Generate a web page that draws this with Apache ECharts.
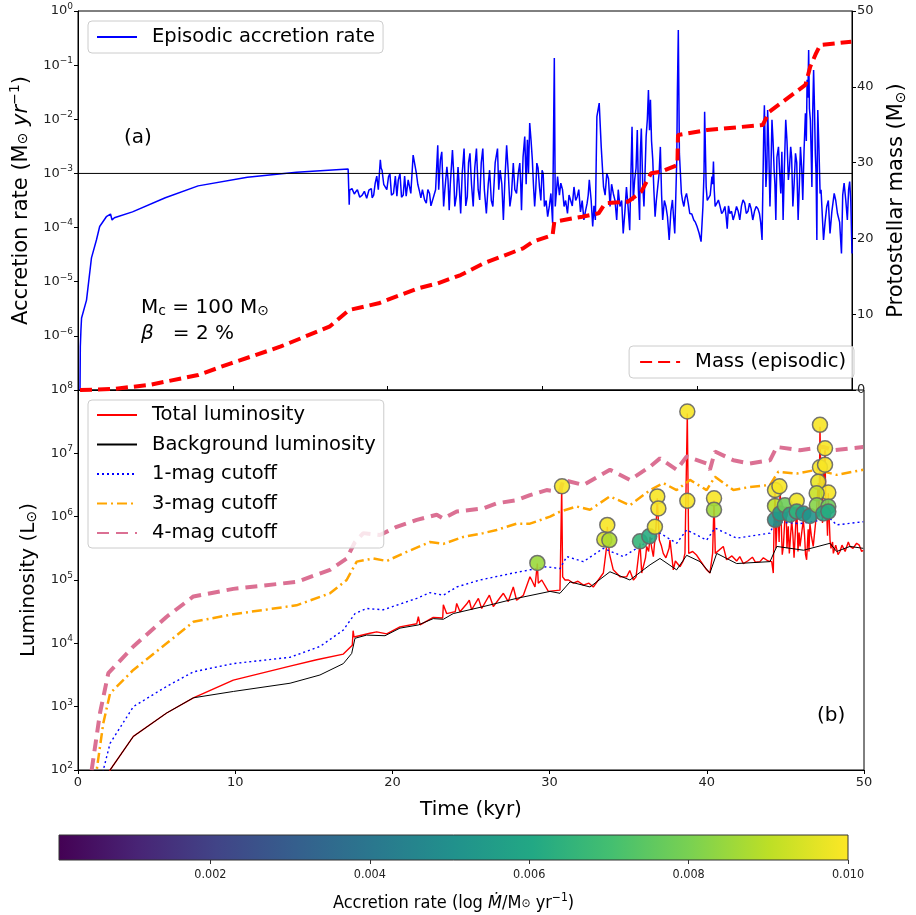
<!DOCTYPE html>
<html><head><meta charset="utf-8">
<script src="https://cdn.jsdelivr.net/npm/echarts@6/dist/echarts.min.js"></script>
<style>html,body{margin:0;padding:0;background:#fff}#c{width:916px;height:915px}</style>
</head><body><div id="c"></div>
<script>
// ---------- data (x in kyr, values as log10 where noted) ----------
const accretionLog = [[0.13,-7],[0.15,-6.2],[0.19,-5.89],[0.23,-5.67],[0.55,-5.34],[0.87,-4.56],[1.19,-4.23],[1.40,-3.98],[1.83,-3.80],[2.10,-3.75],[2.2,-3.86],[2.35,-3.82],[3.52,-3.71],[5.64,-3.45],[7.76,-3.23],[10.94,-3.07],[14.12,-2.98],[17.45,-2.92],[17.5,-2.92],[17.52,-3.58],[17.55,-3.31],
[17.94,-3.34],[18.36,-3.40],[18.79,-3.31],[19.0,-3.45],[19.2,-3.18],[19.53,-2.75],[19.64,-2.94],[19.85,-3.18],[20.06,-3.06],[20.38,-3.37],[20.69,-3.12],[21.01,-3.40],[21.33,-3.12],[21.5,-3.37],[21.65,-2.66],[21.86,-3.0],[22.07,-3.34],[22.39,-3.49],[22.71,-3.37],[22.92,-3.58],[23.24,-2.48],[23.41,-2.75],[23.62,-3.61],[23.83,-2.88],[23.98,-3.68],[24.19,-2.57],[24.34,-3.61],[24.55,-2.88],[24.72,-3.74],[24.94,-2.54],[25.15,-3.43],[25.32,-2.63],[25.53,-3.61],[25.74,-2.54],[25.95,-3.49],[26.15,-2.54],[26.38,-3.74],[26.59,-2.94],[26.8,-3.61],[27.1,-2.54],[27.27,-2.94],[27.48,-3.86],[27.69,-2.48],[27.9,-3.61],[28.12,-2.81],[28.33,-3.37],[28.54,-2.81],[28.65,-3.68],[28.86,-2.32],[29.03,-2.38],[29.18,-2.07],[29.35,-2.75],[29.5,-3.61],[29.64,-2.81],[29.81,-3.25],[29.98,-2.94],[30.13,-3.61],[30.34,-3.80],[30.55,-3.37],[30.66,-3.92],[30.77,-0.87],[30.83,-3.61],[30.98,-3.06],[31.19,-3.18],[31.4,-3.61],[31.62,-3.74],[31.83,-3.37],[32.04,-3.25],[32.25,-3.43],[32.46,-3.71],[32.68,-3.86],[32.89,-3.55],[33.03,-3.12],[33.25,-3.98],[33.42,-3.86],[33.52,-1.95],[33.67,-1.70],[33.8,-2.51],[33.95,-3.25],[34.16,-3.0],[34.37,-3.61],[34.58,-3.37],[34.8,-3.86],[35.01,-3.61],[35.22,-4.11],[35.43,-3.25],[35.64,-4.05],[35.79,-2.14],[35.96,-3.12],[36.13,-2.20],[36.28,-3.86],[36.39,-2.17],[36.56,-3.61],[36.7,-2.32],[36.85,-1.46],[36.98,-1.64],[37.13,-2.75],[37.28,-3.80],[37.45,-3.25],[37.62,-2.51],[37.77,-3.86],[37.98,-3.61],[38.19,-4.23],[38.4,-3.49],[38.55,-4.11],[38.68,-2.75],[38.78,-0.35],[38.85,-2.63],[38.98,-3.37],[39.14,-3.61],[39.31,-3.37],[39.52,-3.74],[39.78,-3.86],[39.99,-3.98],[40.25,-4.26],[40.37,-3.61],[40.48,-1.86],[40.58,-3.25],[40.73,-3.49],[40.95,-3.06],[41.05,-2.78],[41.16,-3.61],[41.37,-3.49],[41.58,-3.74],[41.79,-3.61],[41.94,-4.02],[42.11,-3.74],[42.32,-3.86],[42.54,-3.61],[42.75,-3.86],[42.96,-3.49],[43.17,-3.74],[43.38,-3.55],[43.59,-3.86],[43.81,-3.61],[44.02,-3.74],[44.19,-4.23],[44.27,-2.75],[44.34,-1.74],[44.44,-3.25],[44.55,-1.83],[44.7,-3.61],[44.83,-2.01],[44.97,-2.94],[45.08,-3.86],[45.25,-2.51],[45.4,-3.37],[45.55,-3.86],[45.72,-2.01],[45.89,-3.12],[46.04,-2.51],[46.18,-3.61],[46.35,-2.63],[46.52,-3.86],[46.67,-2.51],[46.82,-3.49],[46.99,-1.89],[47.1,-1.27],[47.2,-0.72],[47.31,-2.01],[47.41,-3.25],[47.52,-1.09],[47.63,-2.63],[47.73,-4.23],[47.79,-1.83],[47.94,-3.37],[48.16,-4.23],[48.37,-3.61],[48.58,-4.11],[48.85,-3.37],[49.06,-3.74],[49.32,-4.48],[49.49,-3.18],[49.7,-3.86],[49.85,-3.15],[50.0,-4.48]];
// further flicker readings inside the noisy stretches
const accretionLogFine = [[17.7,-3.28],[17.85,-3.38],[18.05,-3.3],[18.2,-3.44],[18.5,-3.33],[18.65,-3.46],[18.95,-3.28],[19.1,-3.4],[19.3,-3.05],[19.4,-3.3],[19.58,-2.9],[19.75,-3.2],[19.95,-3.3],[20.15,-3.0],[20.25,-3.4],[20.5,-3.05],[20.6,-3.42],[20.8,-3.0],[20.9,-3.44],[21.1,-3.05],[21.2,-3.42],[21.4,-3.1],[21.95,-3.2],[22.15,-3.45],[22.25,-3.3],[22.5,-3.55],[22.6,-3.3],[22.8,-3.6],[23.1,-3.3],[23.3,-3.3],[23.5,-2.6],[23.7,-3.3],[23.9,-3.1],[24.05,-3.2],[24.27,-3.0],[24.45,-3.4],[24.62,-3.2],[24.82,-3.0],[25.05,-3.6],[25.23,-2.8],[25.42,-3.2],[25.63,-2.9],[25.85,-3.3],[26.05,-2.8],[26.25,-3.3],[26.5,-3.2],[26.7,-3.5],[26.95,-2.8],[27.18,-3.3],[27.38,-3.2],[27.58,-3.1],[27.8,-3.0],[28.0,-3.4],[28.22,-3.3],[28.44,-3.0],[28.6,-3.2],[28.75,-2.7],[28.95,-3.2],[29.1,-3.0],[29.27,-2.4],[29.42,-3.2],[29.57,-3.3],[29.72,-2.9],[29.9,-3.5],[30.05,-3.0],[30.24,-3.5],[30.45,-3.6],[31.1,-3.4],[31.3,-3.3],[31.5,-3.5],[31.72,-3.4],[31.93,-3.6],[32.15,-3.5],[32.35,-3.3],[32.57,-3.5],[32.78,-3.7],[32.96,-3.4],[33.15,-3.5],[33.33,-3.6],[34.05,-3.4],[34.27,-3.1],[34.47,-3.2],[34.69,-3.5],[34.9,-3.3],[35.12,-3.5],[35.33,-3.7],[35.53,-3.6],[35.72,-3.0],[35.87,-3.5],[36.05,-2.9],[36.2,-3.3],[36.33,-2.6],[36.48,-3.2],[36.63,-3.0],[36.78,-2.0],[36.92,-2.2],[37.05,-2.4],[37.2,-3.3],[37.36,-3.5],[37.54,-3.0],[37.7,-3.4],[37.88,-3.5],[38.08,-3.8],[38.3,-3.7],[38.47,-3.8],[38.62,-3.4],[38.72,-1.5],[39.05,-3.5],[39.22,-3.45],[39.42,-3.55],[39.65,-3.75],[39.88,-3.9],[40.12,-4.1],[40.44,-3.0],[40.65,-3.5],[40.84,-3.4],[41.0,-3.2],[41.1,-3.3],[41.27,-3.55],[41.47,-3.6],[41.68,-3.7],[41.87,-3.8],[42.02,-3.6],[42.22,-3.7],[42.43,-3.75],[42.65,-3.7],[42.86,-3.6],[43.07,-3.55],[43.28,-3.7],[43.48,-3.65],[43.7,-3.7],[43.92,-3.65],[44.1,-3.9],[44.3,-2.2],[44.39,-2.5],[44.5,-2.9],[44.62,-2.5],[44.76,-3.0],[44.9,-2.4],[45.02,-3.2],[45.15,-2.7],[45.33,-3.0],[45.47,-2.6],[45.63,-2.9],[45.8,-2.4],[45.96,-2.9],[46.1,-2.7],[46.26,-3.2],[46.43,-2.8],[46.6,-3.2],[46.75,-2.9],[46.9,-2.6],[47.05,-2.4],[47.15,-1.6],[47.25,-1.8],[47.36,-2.6],[47.46,-1.9],[47.57,-1.7],[47.68,-3.0],[47.76,-2.6],[47.86,-2.5],[48.0,-3.3],[48.26,-3.9],[48.47,-3.5],[48.7,-3.7],[48.95,-3.5],[49.2,-3.9],[49.4,-3.4],[49.6,-3.5],[49.78,-3.3],[49.92,-3.5]];
const thresholdRate = 1e-3;
const timeRange = [0, 50];
const massEpisodic = [[0.13,0],[2.25,0.13],[4.58,0.66],[7.76,1.98],[9.88,3.52],[13.06,5.71],[16.24,8.35],[17.51,10.55],[19.42,11.44],[21.97,13.41],[23.24,14.07],[24.72,15.17],[26.21,16.71],[28.75,18.69],[29.39,19.57],[30.66,20.45],[30.77,22.2],[32.57,22.86],[33.63,23.31],[34.05,24.63],[35.54,24.85],[36.39,26.17],[37.02,28.6],[37.66,28.8],[38.72,29.68],[38.76,33.64],[40.63,34.3],[44.23,34.96],[44.66,36.72],[46.99,40.24],[47.3,42.65],[47.63,44.2],[47.94,45.51],[49.95,45.95]];
const totalLumLog = [[2.0,1.95],[2.04,2.0],[3.52,2.53],[5.64,2.9],[7.34,3.14],[9.88,3.42],[13.49,3.64],[15.18,3.74],[16.88,3.83],[17.45,3.97],[17.5,4.2],[17.56,4.1],[18.57,4.16],[19.0,4.18],[19.64,4.15],[20.48,4.26],[21.55,4.31],[21.65,4.42],[21.76,4.29],[22.6,4.41],[23.2,4.4],[23.24,4.61],[23.45,4.47],[24.0,4.5],[24.09,4.63],[24.3,4.5],[24.72,4.62],[24.89,4.68],[25.04,4.53],[25.47,4.71],[25.68,4.55],[26.17,4.76],[26.42,4.58],[26.84,4.72],[27.06,4.79],[27.37,4.66],[27.69,4.89],[27.9,4.68],[28.33,4.76],[28.75,5.05],[28.86,5.0],[29.07,4.89],[29.22,5.26],[29.28,4.95],[29.5,5.0],[29.92,4.82],[30.03,4.84],[30.66,4.84],[30.77,6.47],[30.83,5.05],[30.98,5.0],[31.51,4.95],[32.15,4.92],[32.78,4.89],[33.42,5.11],[33.63,5.53],[33.67,5.84],[33.8,5.42],[34.05,5.16],[34.48,5.05],[35.33,5.0],[35.75,5.58],[35.86,5.11],[36.18,5.53],[36.39,5.68],[36.6,5.37],[36.77,5.84],[36.85,6.29],[36.98,5.63],[37.23,5.42],[37.66,5.63],[37.87,5.16],[38.3,5.21],[38.61,5.42],[38.76,7.63],[38.85,5.42],[39.36,5.39],[39.99,5.16],[40.2,5.11],[40.37,5.42],[40.46,6.26],[40.54,5.42],[41.05,5.53],[41.26,5.32],[42.32,5.26],[43.38,5.29],[44.13,5.29],[44.23,5.11],[44.34,6.42],[44.45,5.79],[44.66,6.47],[44.87,5.53],[45.04,6.16],[45.25,5.42],[45.4,5.95],[45.61,5.37],[45.72,6.21],[45.93,5.53],[46.14,5.95],[46.35,5.32],[46.56,5.89],[46.77,5.53],[46.99,6.16],[47.09,6.53],[47.2,7.42],[47.31,6.32],[47.41,6.79],[47.52,7.05],[47.63,6.05],[47.73,6.37],[47.84,5.63],[48.05,5.42],[48.47,5.45],[49.11,5.53],[49.53,5.58],[49.95,5.47]];
const totalLumLogFine = [[31.2,5.0],[31.8,4.98],[32.5,4.95],[33.1,5.0],[34.3,5.1],[34.9,5.05],[35.1,5.15],[35.5,5.05],[36.1,5.35],[36.3,5.45],[36.5,5.5],[37.1,5.55],[37.4,5.35],[37.6,5.5],[38.0,5.3],[38.5,5.3],[39.1,5.45],[39.6,5.3],[41.6,5.38],[41.9,5.3],[42.1,5.37],[42.6,5.3],[42.9,5.36],[43.1,5.28],[43.6,5.35],[43.9,5.3],[44.28,5.9],[44.4,5.5],[44.52,6.2],[44.6,5.6],[44.72,6.0],[44.8,5.4],[44.95,5.9],[45.1,5.5],[45.18,5.85],[45.32,5.4],[45.48,5.7],[45.55,5.35],[45.66,5.9],[45.8,5.45],[45.87,5.75],[46.03,5.5],[46.22,5.7],[46.28,5.4],[46.45,5.8],[46.5,5.45],[46.65,5.7],[46.85,5.5],[46.92,5.9],[47.14,6.0],[47.25,6.6],[47.36,5.9],[47.46,6.5],[47.57,6.2],[47.68,5.7],[47.78,6.0],[47.9,5.5],[48.0,5.6],[48.2,5.55],[48.35,5.4],[48.6,5.55],[48.8,5.45],[49.0,5.6],[49.3,5.5],[49.7,5.55],[49.85,5.45]];
const backgroundLumLog = [[2.04,2.0],[3.52,2.53],[5.64,2.9],[7.34,3.14],[9.88,3.24],[13.49,3.37],[15.39,3.5],[16.88,3.68],[17.41,3.84],[17.62,4.08],[18.36,4.13],[19.53,4.12],[20.48,4.24],[21.65,4.29],[22.6,4.39],[23.24,4.38],[23.87,4.47],[25.78,4.58],[27.9,4.71],[30.03,4.82],[30.66,4.79],[31.3,4.97],[32.57,4.89],[33.84,5.13],[35.11,5.0],[36.39,5.24],[37.02,5.34],[38.08,5.16],[38.72,5.39],[39.57,5.29],[40.2,5.11],[40.63,5.42],[41.9,5.26],[44.02,5.29],[44.45,5.53],[46.16,5.47],[47.84,5.58],[48.26,5.45],[49.11,5.53],[49.95,5.5]];
const cutoff1Log = [[1.5,1.8],[1.61,2.0],[2.04,2.42],[3.52,3.0],[5.64,3.32],[7.34,3.55],[9.88,3.68],[13.49,3.78],[15.39,3.95],[16.88,4.21],[17.62,4.47],[18.36,4.55],[19.42,4.53],[21.55,4.71],[22.39,4.8],[23.24,4.76],[24.09,4.89],[25.57,5.0],[27.69,5.11],[29.81,5.21],[30.66,5.18],[31.09,5.37],[32.15,5.29],[33.42,5.5],[34.69,5.37],[36.39,5.63],[37.02,5.74],[38.08,5.58],[38.72,5.79],[39.99,5.63],[40.52,5.82],[41.9,5.66],[44.02,5.74],[44.34,5.92],[45.93,5.89],[47.84,5.97],[48.26,5.87],[49.95,5.92]];
const cutoff3Log = [[1.1,1.8],[1.19,2.0],[1.61,2.74],[2.04,3.21],[3.52,3.58],[5.64,4.0],[7.34,4.34],[9.88,4.46],[13.9,4.6],[16.03,4.79],[17.09,5.0],[17.73,5.29],[18.79,5.34],[19.64,5.3],[20.69,5.42],[22.39,5.6],[23.24,5.57],[24.51,5.68],[25.78,5.74],[26.63,5.79],[27.9,5.89],[28.75,5.89],[30.03,6.0],[30.66,6.08],[31.72,6.16],[32.57,6.11],[33.84,6.32],[35.11,6.18],[36.39,6.42],[37.23,6.53],[38.08,6.42],[38.93,6.58],[39.99,6.42],[40.52,6.63],[41.69,6.42],[42.75,6.47],[44.02,6.5],[44.55,6.71],[45.72,6.68],[46.99,6.74],[48.26,6.66],[49.95,6.74]];
const cutoff4Log = [[0.75,1.7],[0.87,2.0],[1.4,2.9],[1.93,3.53],[3.52,3.95],[5.64,4.42],[7.34,4.74],[9.88,4.86],[13.9,4.97],[16.03,5.16],[17.09,5.34],[17.62,5.6],[18.15,5.74],[19.21,5.71],[20.27,5.84],[21.55,5.95],[22.82,6.03],[23.24,5.97],[24.09,6.08],[25.78,6.13],[26.63,6.21],[27.9,6.26],[28.75,6.34],[29.81,6.42],[30.66,6.39],[30.87,6.58],[32.15,6.5],[33.84,6.74],[35.11,6.58],[36.39,6.79],[37.02,6.92],[38.08,6.74],[38.72,6.95],[39.99,6.84],[40.2,6.74],[40.52,7.03],[41.69,6.89],[42.75,6.84],[44.02,6.89],[44.45,7.1],[45.93,7.05],[47.41,7.1],[48.05,7.05],[49.95,7.1]];
// bursts: time, log10 L, colour value
const burstPoints = [[29.22,5.27,0.0085],[30.79,6.48,0.0099],[33.67,5.87,0.0099],[33.48,5.64,0.0094],[33.8,5.63,0.0088],[35.75,5.61,0.0066],[36.34,5.69,0.0062],[36.7,5.84,0.0098],[36.85,6.32,0.0099],[36.92,6.13,0.0099],[38.76,7.66,0.0099],[38.76,6.25,0.0099],[40.46,6.29,0.0099],[40.46,6.11,0.0086],[44.34,6.42,0.0098],[44.62,6.48,0.0099],[44.34,6.17,0.009],[44.34,5.95,0.0052],[44.66,6.05,0.0055],[44.97,6.18,0.0078],[45.29,6.03,0.0056],[45.72,6.25,0.0098],[45.72,6.08,0.0065],[46.14,6.05,0.0054],[46.56,6.01,0.0052],[47.2,7.45,0.0099],[47.52,7.08,0.0099],[47.2,6.78,0.0099],[47.52,6.82,0.0099],[47.09,6.55,0.0097],[47.73,6.38,0.0099],[46.99,6.37,0.0092],[47.0,6.18,0.0082],[47.73,6.16,0.0078],[47.41,6.05,0.006],[47.73,6.08,0.0062]];
const colorRange = [0.0001, 0.01];
const colorTicks = [0.002, 0.004, 0.006, 0.008, 0.010];
const viridis = ['#440154','#482475','#414487','#355f8d','#2a788e','#21918c','#22a884','#44bf70','#7ad151','#bddf26','#fde725'];

const byX = (a, b) => a[0] - b[0];
const pw = arr => arr.map(p => [p[0], Math.pow(10, p[1])]);
const F = 'DejaVu Sans';
const chart = echarts.init(document.getElementById('c'));
const supFmt = v => { const e = Math.round(Math.log10(v)); return '{a|10}{b|' + (e < 0 ? '\u2212' + (-e) : e) + '}'; };
const supRich = { a: {fontSize: 13, fontFamily: F, color: '#222'}, b: {fontSize: 9, fontFamily: F, color: '#222', verticalAlign: 'bottom', padding: [0,0,9,0]} };
const stops = viridis.map((c,i) => ({offset: i/(viridis.length-1), color: c}));
const legendBase = {backgroundColor: 'rgba(255,255,255,0.82)', borderColor: '#ccc', borderWidth: 1, borderRadius: 4, itemWidth: 40, itemHeight: 12, orient: 'vertical',
  itemStyle: {opacity: 0}, textStyle: {fontSize: 19.5, color: '#000', fontFamily: F, padding: [0,0,0,10]}};

chart.setOption({
  animation: false,
  textStyle: {fontFamily: F},
  grid: [
    {left: 78, right: 52, top: 11, height: 379, show: true, borderColor: '#000', borderWidth: 1},
    {left: 78, right: 52, top: 390, height: 380, show: true, borderColor: '#000', borderWidth: 1},
    {left: 59, right: 68, top: 835, height: 25, show: false}
  ],
  xAxis: [
    {gridIndex: 0, type: 'value', min: timeRange[0], max: timeRange[1], interval: 10, axisLabel: {show: false}, axisTick: {inside: true, length: 4, lineStyle: {color: '#000'}}, axisLine: {lineStyle: {color: '#000'}}, splitLine: {show: false}},
    {gridIndex: 1, type: 'value', min: timeRange[0], max: timeRange[1], interval: 10, axisLabel: {fontSize: 13, color: '#222', margin: 6}, axisTick: {length: 4, lineStyle: {color: '#000'}}, axisLine: {lineStyle: {color: '#000'}}, splitLine: {show: false},
      name: 'Time (kyr)', nameLocation: 'middle', nameGap: 30, nameTextStyle: {fontSize: 20, color: '#000'}},
    {gridIndex: 2, type: 'value', min: colorRange[0], max: colorRange[1], axisLine: {show: false}, splitLine: {show: false},
      axisTick: {customValues: colorTicks, length: 4, lineStyle: {color: '#333'}},
      axisLabel: {customValues: colorTicks, formatter: v => v.toFixed(3), fontSize: 12.5, fontFamily: 'DejaVu Sans Condensed', color: '#222'},
      name: '{n|Accretion rate (log }{i|Ṁ}{n|/M}{s|⊙}{n| yr}{p|\u22121}{n|)}', nameLocation: 'middle', nameGap: 32,
      nameTextStyle: {rich: {n: {fontSize: 18, fontFamily: 'DejaVu Sans Condensed', color: '#000'}, i: {fontSize: 18, fontStyle: 'italic', fontFamily: 'DejaVu Sans Condensed', color: '#000'}, s: {fontSize: 12, fontFamily: 'DejaVu Sans Condensed', color: '#000', verticalAlign: 'top', padding: [6,0,0,0]}, p: {fontSize: 12, fontFamily: 'DejaVu Sans Condensed', color: '#000', padding: [0,0,10,0]}}}}
  ],
  yAxis: [
    {gridIndex: 0, type: 'log', logBase: 10, min: 1e-7, max: 1, interval: 1, splitLine: {show: false}, axisLine: {show: true, lineStyle: {color: '#000'}}, axisTick: {length: 4, lineStyle: {color: '#000'}},
      axisLabel: {formatter: supFmt, rich: supRich, showMinLabel: false, margin: 5},
      name: '{n|Accretion rate (M}{s|⊙}{i| yr}{p|\u22121}{n|)}', nameLocation: 'middle', nameGap: 34, nameRotate: 90,
      nameTextStyle: {rich: {n: {fontSize: 21, fontFamily: F, color: '#000'}, i: {fontSize: 21, fontStyle: 'italic', fontFamily: F, color: '#000'}, s: {fontSize: 14, fontFamily: F, color: '#000', verticalAlign: 'top', padding: [8,0,0,0]}, p: {fontSize: 14, fontFamily: F, color: '#000', padding: [0,0,12,0]}}}},
    {gridIndex: 0, type: 'value', position: 'right', min: 0, max: 50, interval: 10, splitLine: {show: false}, axisLine: {show: true, lineStyle: {color: '#000'}}, axisTick: {show: true, length: 4, lineStyle: {color: '#000'}},
      axisLabel: {fontSize: 13, color: '#222', margin: 5},
      name: '{n|Protostellar mass (M}{s|⊙}{n|)}', nameLocation: 'middle', nameGap: 34, nameRotate: 90,
      nameTextStyle: {rich: {n: {fontSize: 21, fontFamily: F, color: '#000'}, s: {fontSize: 14, fontFamily: F, color: '#000', padding: [8,0,0,0]}}}},
    {gridIndex: 1, type: 'log', logBase: 10, min: 1e2, max: 1e8, interval: 1, splitLine: {show: false}, axisLine: {show: true, lineStyle: {color: '#000'}}, axisTick: {length: 4, lineStyle: {color: '#000'}},
      axisLabel: {formatter: supFmt, rich: supRich, margin: 5},
      name: '{n|Luminosity (L}{s|⊙}{n|)}', nameLocation: 'middle', nameGap: 34, nameRotate: 90,
      nameTextStyle: {rich: {n: {fontSize: 20, fontFamily: F, color: '#000'}, s: {fontSize: 14, fontFamily: F, color: '#000', padding: [8,0,0,0]}}}},
    {gridIndex: 2, type: 'value', min: 0, max: 1, show: false}
  ],
  visualMap: [{type: 'continuous', show: false, seriesIndex: 8, dimension: 2, min: colorRange[0], max: colorRange[1], inRange: {color: viridis}}],
  legend: [
    Object.assign({}, legendBase, {data: ['Episodic accretion rate'], left: 88, top: 21, padding: [6, 8, 6, 8]}),
    Object.assign({}, legendBase, {data: ['Mass (episodic)'], right: 62, top: 346, padding: [6, 8, 6, 10]}),
    Object.assign({}, legendBase, {data: ['Total luminosity', 'Background luminosity', '1-mag cutoff', '3-mag cutoff', '4-mag cutoff'], left: 88, top: 400, padding: [5, 8, 5, 8], itemGap: 9.5})
  ],
  graphic: [
    {type: 'text', left: 124, top: 128, style: {text: '(a)', font: '20px "DejaVu Sans"', fill: '#000'}},
    {type: 'text', left: 817, top: 706, style: {text: '(b)', font: '20px "DejaVu Sans"', fill: '#000'}},
    {type: 'text', left: 141, top: 298, style: {text: '{n|M}{s|c}{n| = 100 M}{t|⊙}', rich: {n: {fontSize: 20, fontFamily: F, fill: '#000'}, s: {fontSize: 14, fontFamily: F, fill: '#000', padding: [6,0,0,0]}, t: {fontSize: 14, fontFamily: F, fill: '#000', padding: [6,0,0,0]}}}},
    {type: 'text', left: 141, top: 324, style: {text: '{b|β}{n|   = 2 %}', rich: {b: {fontSize: 20, fontStyle: 'italic', fontFamily: F, fill: '#000'}, n: {fontSize: 20, fontFamily: F, fill: '#000'}}}}
  ],
  series: [
    {name: 'Episodic accretion rate', type: 'line', xAxisIndex: 0, yAxisIndex: 0, data: pw(accretionLog.concat(accretionLogFine).sort(byX)), symbol: 'none', lineStyle: {color: '#0000ff', width: 1.5}, itemStyle: {color: '#0000ff'}, z: 2},
    {name: 'threshold', type: 'line', xAxisIndex: 0, yAxisIndex: 0, data: timeRange.map(t => [t, thresholdRate]), symbol: 'none', lineStyle: {color: '#000', width: 1}, z: 3, silent: true},
    {name: 'Mass (episodic)', type: 'line', xAxisIndex: 0, yAxisIndex: 1, data: massEpisodic, symbol: 'none', lineStyle: {color: '#ff0000', width: 4, type: [12, 6]}, itemStyle: {color: '#ff0000'}, z: 4},
    {name: 'Total luminosity', type: 'line', xAxisIndex: 1, yAxisIndex: 2, data: pw(totalLumLog.concat(totalLumLogFine).sort(byX)), symbol: 'none', lineStyle: {color: '#ff0000', width: 1.4}, itemStyle: {color: '#ff5555'}, z: 2},
    {name: 'Background luminosity', type: 'line', xAxisIndex: 1, yAxisIndex: 2, data: pw(backgroundLumLog), symbol: 'none', lineStyle: {color: '#000', width: 1}, itemStyle: {color: '#000'}, z: 3},
    {name: '1-mag cutoff', type: 'line', xAxisIndex: 1, yAxisIndex: 2, data: pw(cutoff1Log), symbol: 'none', lineStyle: {color: '#0000ff', width: 1.4, type: [2, 3]}, itemStyle: {color: '#0000ff'}, z: 3},
    {name: '3-mag cutoff', type: 'line', xAxisIndex: 1, yAxisIndex: 2, data: pw(cutoff3Log), symbol: 'none', lineStyle: {color: '#ffa500', width: 2.5, type: [10, 4, 2, 4]}, itemStyle: {color: '#ffa500'}, z: 3},
    {name: '4-mag cutoff', type: 'line', xAxisIndex: 1, yAxisIndex: 2, data: pw(cutoff4Log), symbol: 'none', lineStyle: {color: '#db7093', width: 4, type: [12, 7]}, itemStyle: {color: '#db7093'}, z: 3},
    {name: 'bursts', type: 'scatter', xAxisIndex: 1, yAxisIndex: 2, data: burstPoints.map(p => [p[0], Math.pow(10, p[1]), p[2]]), symbolSize: 15, itemStyle: {borderColor: '#666', borderWidth: 1.5, opacity: 0.9}, z: 5},
    {name: 'colorbar', type: 'custom', xAxisIndex: 2, yAxisIndex: 3, data: [[colorRange[0], colorRange[1]]], silent: true,
      renderItem: (params, api) => {
        const p0 = api.coord([api.value(0), 0]);
        const p1 = api.coord([api.value(1), 1]);
        return {type: 'rect', shape: {x: p0[0], y: p1[1], width: p1[0] - p0[0], height: p0[1] - p1[1]},
          style: {fill: new echarts.graphic.LinearGradient(0, 0, 1, 0, stops), stroke: '#333', lineWidth: 1}};
      }}
  ]
});
</script>
</body></html>
